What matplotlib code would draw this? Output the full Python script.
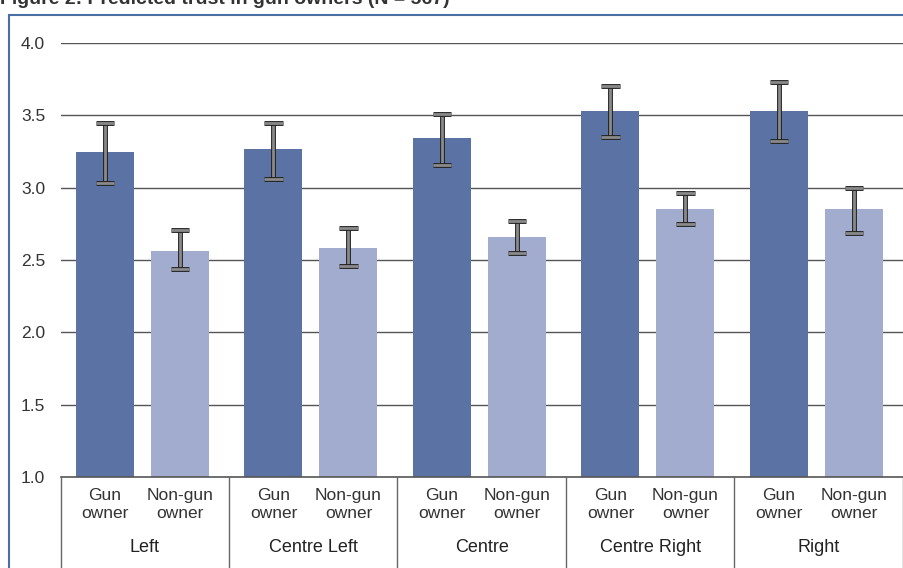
import matplotlib.pyplot as plt
import matplotlib.patheffects as pe
from matplotlib.patches import Rectangle
from matplotlib.transforms import blended_transform_factory

groups = ['Left', 'Centre Left', 'Centre', 'Centre Right', 'Right']
sub_labels = ['Gun\nowner', 'Non-gun\nowner']
gun = [3.25, 3.27, 3.34, 3.53, 3.53]
gun_lo = [3.03, 3.06, 3.16, 3.35, 3.32]
gun_hi = [3.45, 3.45, 3.51, 3.70, 3.73]
non = [2.56, 2.58, 2.66, 2.85, 2.85]
non_lo = [2.44, 2.46, 2.55, 2.75, 2.69]
non_hi = [2.71, 2.72, 2.77, 2.96, 3.00]

W, H = 904, 568
fig = plt.figure(figsize=(W / 100, H / 100), dpi=100)
plt.rcParams['font.family'] = ['Liberation Sans', 'DejaVu Sans']

# blue frame and (cut off) title
fig.patches.append(Rectangle((8.5 / W, -0.1), 1.0, (H - 15.5) / H + 0.1,
                             transform=fig.transFigure, fill=False,
                             edgecolor='#4a6fa5', linewidth=1.5))
fig.text(0.0, 1.0 - 4 / H, 'Figure 2: Predicted trust in gun owners (N = 567)',
         fontsize=14, fontweight='bold', color='#333333', va='baseline', ha='left')

left, gw = 60.5, 168.5
ax = fig.add_axes([left / W, (H - 477) / H, 1 - left / W, (477 - 43) / H])
ax.set_xlim(0, (W - left) / gw)
ax.set_ylim(1, 4)
for s in ax.spines.values():
    s.set_visible(False)
ax.set_xticks([])
ax.set_yticks([1.0, 1.5, 2.0, 2.5, 3.0, 3.5, 4.0])
ax.set_yticklabels(['1.0', '1.5', '2.0', '2.5', '3.0', '3.5', '4.0'])
ax.tick_params(axis='y', length=0, pad=11, labelsize=12.5, labelcolor='#333333')
for y in [1.5, 2.0, 2.5, 3.0, 3.5, 4.0]:
    ax.axhline(y, color='#555555', linewidth=1.0, zorder=1)

off_gun, off_non, bw = 44.5 / gw, 119.5 / gw, 58 / gw
xs_gun = [i + off_gun for i in range(len(groups))]
xs_non = [i + off_non for i in range(len(groups))]
ax.bar(xs_gun, gun, width=bw, bottom=0, color='#5a72a4', zorder=2)
ax.bar(xs_non, non, width=bw, bottom=0, color='#a2acce', zorder=2)

# I-beam error bars
stroke = [pe.Stroke(linewidth=3.5, foreground='#222222'), pe.Normal()]
cap = 0.055
for xs, lo, hi in [(xs_gun, gun_lo, gun_hi), (xs_non, non_lo, non_hi)]:
    ax.vlines(xs, lo, hi, color='#8a8a8a', linewidth=2, zorder=3, path_effects=stroke)
    for x, l, h in zip(xs, lo, hi):
        ax.hlines([l, h], x - cap, x + cap, color='#8a8a8a', linewidth=2,
                  zorder=4, path_effects=stroke)

# category table below the plot
tr = blended_transform_factory(ax.transData, ax.transAxes)
ax.plot([0, len(groups)], [0, 0], transform=tr, color='#555555', linewidth=1.2, clip_on=False)
for i in range(len(groups) + 1):
    ax.plot([i, i], [0, -0.3], transform=tr, color='#666666', linewidth=1.0, clip_on=False)
for i, g in enumerate(groups):
    ax.text(xs_gun[i], -0.063, sub_labels[0], transform=tr, ha='center', va='center',
            fontsize=12.5, color='#333333', linespacing=1.2)
    ax.text(xs_non[i], -0.063, sub_labels[1], transform=tr, ha='center', va='center',
            fontsize=12.5, color='#333333', linespacing=1.2)
    ax.text(i + 0.5, -0.162, g, transform=tr, ha='center', va='center',
            fontsize=13, color='#222222')

fig.savefig('out.png', dpi=100)
